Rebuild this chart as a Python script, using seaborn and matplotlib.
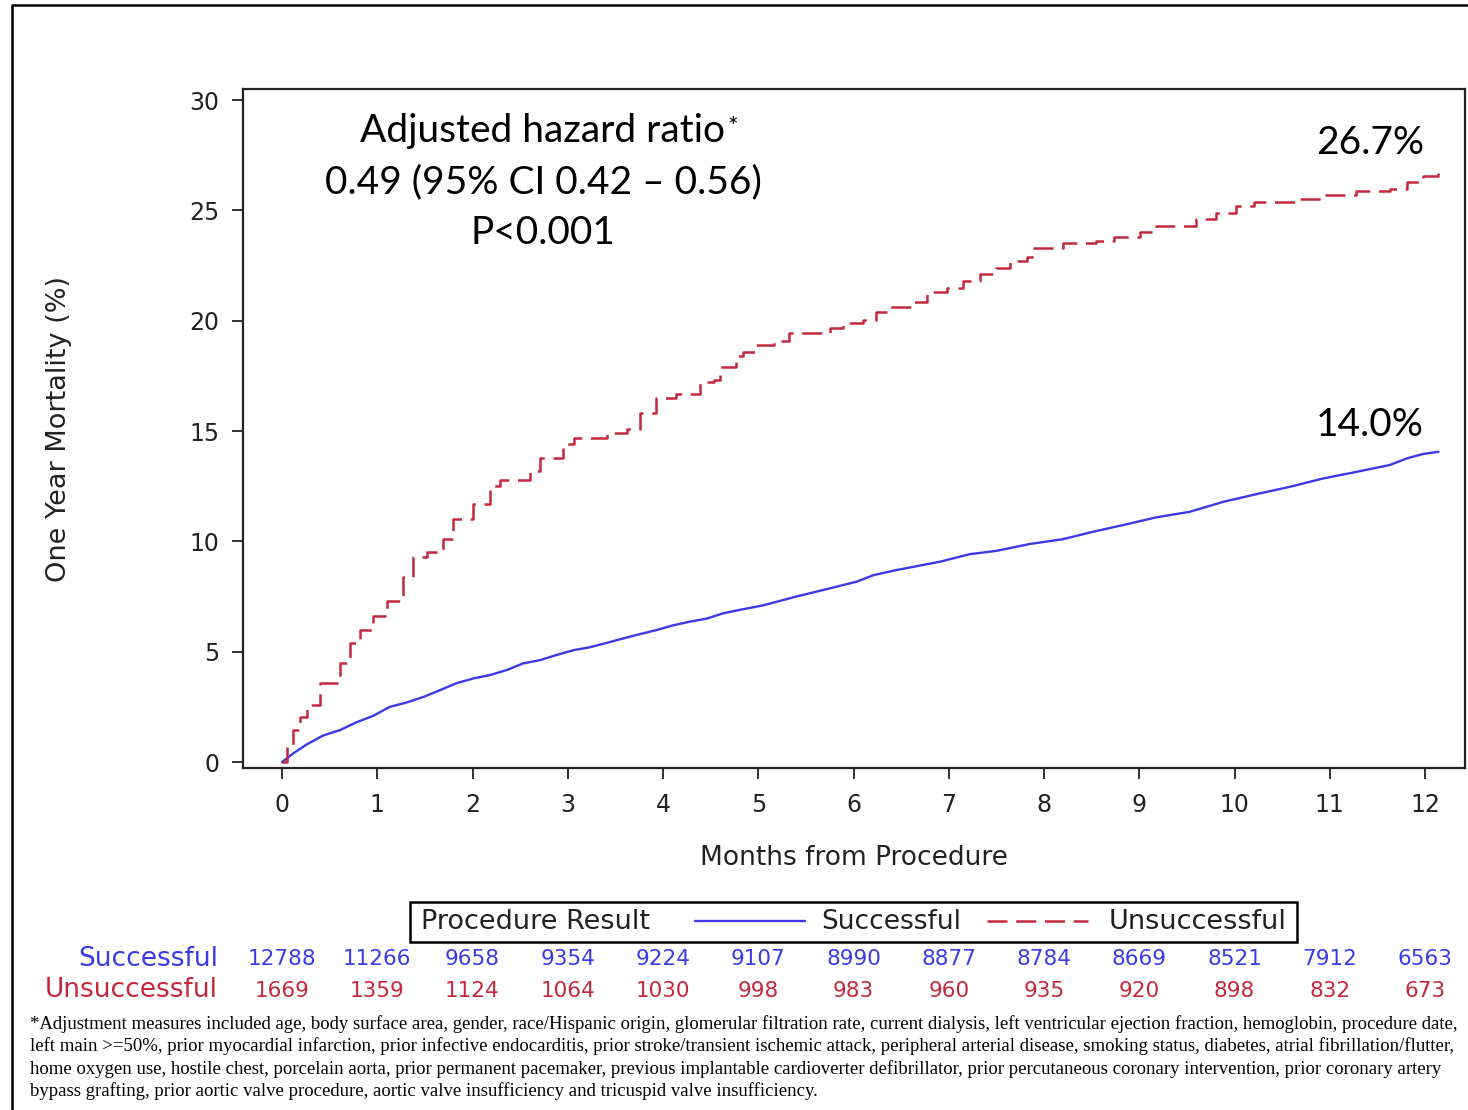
import matplotlib
matplotlib.use("Agg")
import matplotlib.pyplot as plt
from matplotlib.lines import Line2D
from matplotlib.patches import Rectangle
import matplotlib.transforms as mtransforms
import seaborn as sns

# ---------------- data ----------------
unsucc_months = [0, 0.05, 0.12, 0.19, 0.26, 0.40, 0.61, 0.71, 0.82, 0.96, 1.10, 1.27, 1.38,
                 1.52, 1.69, 1.80, 2.01, 2.18, 2.29, 2.60, 2.71, 2.95, 3.06, 3.41, 3.62, 3.76,
                 3.93, 4.14, 4.39, 4.53, 4.60, 4.77, 4.84, 4.98, 5.16, 5.32, 5.75, 5.89, 6.10,
                 6.24, 6.38, 6.63, 6.77, 6.98, 7.15, 7.33, 7.50, 7.64, 7.82, 7.89, 8.20, 8.55,
                 8.73, 9.01, 9.18, 9.60, 9.81, 10.02, 10.20, 10.65, 10.93, 11.28, 11.63, 11.81,
                 11.98, 12.14]
unsuccessful = [0, 0.7, 1.45, 2.05, 2.6, 3.6, 4.5, 5.4, 6.0, 6.6, 7.3, 8.4, 9.3, 9.5, 10.1,
                11.0, 11.7, 12.5, 12.8, 13.2, 13.8, 14.4, 14.7, 14.9, 15.1, 15.8, 16.5, 16.7,
                17.2, 17.3, 17.9, 18.4, 18.6, 18.9, 19.1, 19.45, 19.65, 19.9, 20.05, 20.4, 20.6,
                20.85, 21.3, 21.5, 21.8, 22.1, 22.4, 22.7, 22.9, 23.3, 23.5, 23.6, 23.8, 24.0,
                24.3, 24.6, 24.9, 25.2, 25.4, 25.5, 25.7, 25.9, 25.95, 26.3, 26.55, 26.75]

succ_months = [0, 0.12, 0.26, 0.43, 0.61, 0.78, 0.96, 1.13, 1.31, 1.49, 1.66, 1.83, 2.01,
               2.18, 2.36, 2.53, 2.71, 2.88, 3.06, 3.23, 3.41, 3.58, 3.76, 3.93, 4.11, 4.28,
               4.46, 4.63, 4.81, 5.05, 5.40, 5.75, 6.03, 6.21, 6.45, 6.91, 7.22, 7.50, 7.85,
               8.20, 8.48, 8.83, 9.18, 9.53, 9.88, 10.23, 10.58, 10.93, 11.28, 11.63, 11.81,
               11.98, 12.14]
successful = [0, 0.4, 0.8, 1.2, 1.45, 1.8, 2.1, 2.5, 2.7, 2.96, 3.26, 3.57, 3.79, 3.94, 4.17,
              4.47, 4.62, 4.85, 5.07, 5.2, 5.4, 5.6, 5.8, 5.98, 6.2, 6.36, 6.5, 6.74, 6.9, 7.1,
              7.5, 7.87, 8.17, 8.47, 8.7, 9.08, 9.42, 9.57, 9.88, 10.1, 10.4, 10.74, 11.09,
              11.34, 11.79, 12.14, 12.47, 12.85, 13.15, 13.46, 13.76, 13.96, 14.06]

risk_months = list(range(13))
risk_successful = [12788, 11266, 9658, 9354, 9224, 9107, 8990, 8877, 8784, 8669, 8521, 7912, 6563]
risk_unsuccessful = [1669, 1359, 1124, 1064, 1030, 998, 983, 960, 935, 920, 898, 832, 673]

x_ticks = list(range(13))
y_ticks = [0, 5, 10, 15, 20, 25, 30]

end_labels = ["26.7%", "14.0%"]
hr_lines = ["Adjusted hazard ratio", "0.49 (95% CI 0.42 \u2013 0.56)", "P<0.001"]
footnote = [
    "*Adjustment measures included age, body surface area, gender, race/Hispanic origin, glomerular filtration rate, current dialysis, left ventricular ejection fraction, hemoglobin, procedure date,",
    "left main >=50%, prior myocardial infarction, prior infective endocarditis, prior stroke/transient ischemic attack, peripheral arterial disease, smoking status, diabetes, atrial fibrillation/flutter,",
    "home oxygen use, hostile chest, porcelain aorta, prior permanent pacemaker, previous implantable cardioverter defibrillator, prior percutaneous coronary intervention, prior coronary artery",
    "bypass grafting, prior aortic valve procedure, aortic valve insufficiency and tricuspid valve insufficiency.",
]

BLUE = "#3a3ae8"
RED = "#c4283c"
DASH = (0, (8, 3.5))

sns.set_theme(style="white")
plt.rcParams["font.family"] = ["DejaVu Sans"]

W, H = 1468, 1110
fig = plt.figure(figsize=(W / 100, H / 100), dpi=100)
fig.patch.set_facecolor("white")


def fx(x):
    return x / W


def fy(y):
    return 1 - y / H


ax = fig.add_axes([fx(243), fy(768), fx(1465) - fx(243), (768 - 89) / H])
ax.set_facecolor("white")

sns.lineplot(x=succ_months, y=successful, ax=ax, color=BLUE, linewidth=1.7,
             estimator=None, sort=False)
sns.lineplot(x=unsucc_months, y=unsuccessful, ax=ax, color=RED, linewidth=1.8,
             drawstyle="steps-post", estimator=None, sort=False, linestyle=DASH)

ax.set_xlim(-0.41, 12.42)
ax.set_ylim(-0.27, 30.5)
ax.set_xticks(x_ticks)
ax.set_yticks(y_ticks)
ax.tick_params(axis="both", which="both", direction="out", length=8, width=1.3,
               color="#222222", labelsize=17, labelcolor="#222222", pad=9)
ax.tick_params(axis="x", pad=10)
ax.tick_params(left=True, bottom=True)
for s in ax.spines.values():
    s.set_color("#222222")
    s.set_linewidth(1.6)
ax.set_xlabel("Months from Procedure", fontsize=19, color="#222222", labelpad=20)
ax.set_ylabel("One Year Mortality (%)", fontsize=19.5, color="#222222")
ax.yaxis.set_label_coords(-0.14, 0.5)
ax.grid(False)

# annotations
ann_font = ["Lato", "DejaVu Sans"]
hr_texts = []
for i, t in enumerate(hr_lines):
    hr_texts.append(fig.text(fx(543), fy(131 + i * 51), t, ha="center", va="center",
                             fontsize=28, family=ann_font, color="black"))
fig.text(fx(1424), fy(143), end_labels[0], ha="right", va="center", fontsize=28,
         family=ann_font, color="black")
fig.text(fx(1424), fy(425), end_labels[1], ha="right", va="center", fontsize=28,
         family=ann_font, color="black")

fig.canvas.draw()
bb = hr_texts[0].get_window_extent(renderer=fig.canvas.get_renderer())
fig.text((bb.x1 + 2) / W, (bb.y1 - 3) / H, "*", ha="left", va="top", fontsize=18,
         family=ann_font, color="black")

# legend box
fig.patches.append(Rectangle((fx(410), fy(942)), fx(1297) - fx(410), (942 - 902) / H,
                             transform=fig.transFigure, fill=False, edgecolor="black",
                             linewidth=1.8))
fig.text(fx(421), fy(922), "Procedure Result", ha="left", va="center", fontsize=19.5,
         color="#222222")
fig.lines.append(Line2D([fx(695), fx(805)], [fy(921), fy(921)], transform=fig.transFigure,
                        color=BLUE, linewidth=1.7))
fig.text(fx(821), fy(922), "Successful", ha="left", va="center", fontsize=19,
         color="#222222")
fig.lines.append(Line2D([fx(987), fx(1088)], [fy(921), fy(921)], transform=fig.transFigure,
                        color=RED, linewidth=1.8, linestyle=DASH))
fig.text(fx(1109), fy(922), "Unsuccessful", ha="left", va="center", fontsize=19.5,
         color="#222222")

# risk table
trans = mtransforms.blended_transform_factory(ax.transData, fig.transFigure)
fig.text(fx(218), fy(959), "Successful", ha="right", va="center", fontsize=19, color=BLUE)
fig.text(fx(218), fy(990), "Unsuccessful", ha="right", va="center", fontsize=19, color=RED)
for m, n in zip(risk_months, risk_successful):
    ax.text(m, fy(959), str(n), transform=trans, ha="center", va="center", fontsize=15.5,
            color=BLUE, clip_on=False)
for m, n in zip(risk_months, risk_unsuccessful):
    ax.text(m, fy(991), str(n), transform=trans, ha="center", va="center", fontsize=15.5,
            color=RED, clip_on=False)

# footnote
for i, line in enumerate(footnote):
    fig.text(fx(30), fy(1024 + i * 22.5), line, ha="left", va="center", fontsize=13.5,
             family=["Liberation Serif"], color="black")

# outer frame (left and top)
fig.lines.append(Line2D([fx(12), fx(12), fx(1468)], [fy(1110), fy(5), fy(5)],
                        transform=fig.transFigure, color="black", linewidth=1.8))

fig.savefig("out.png", dpi=100, facecolor="white")
